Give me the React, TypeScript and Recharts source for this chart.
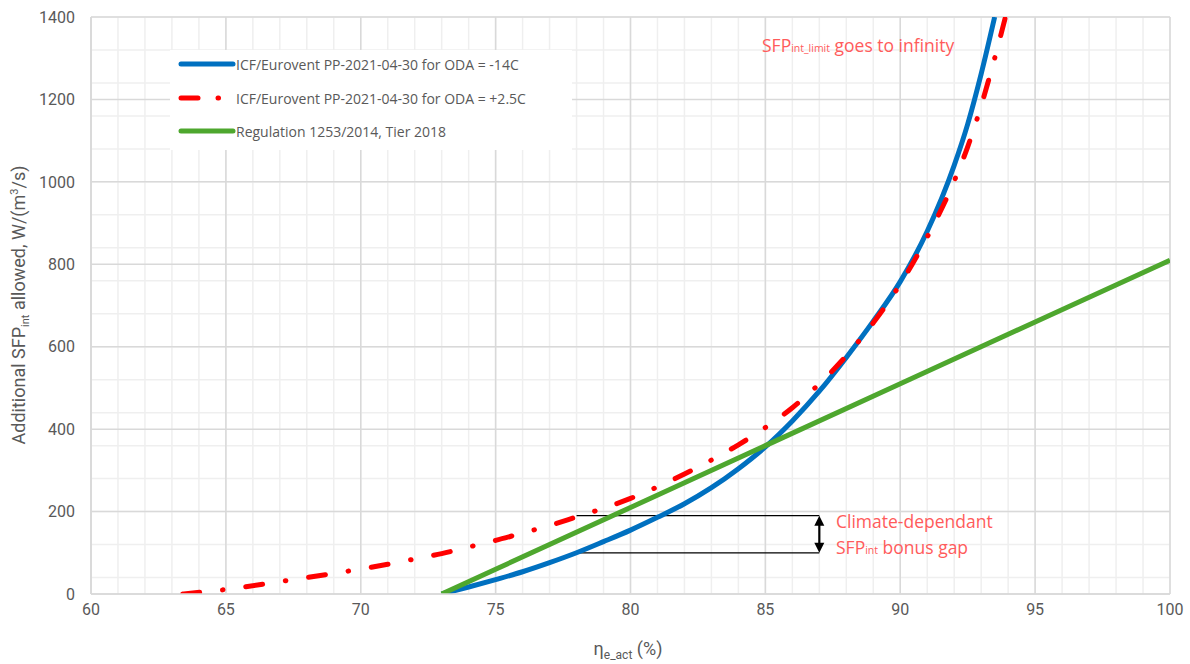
import React from "react";
import { LineChart, Line, XAxis, YAxis, CartesianGrid, ReferenceLine } from "recharts";

// ODA = -14C (blue)
const blueX = [73, 74, 75, 76, 77, 78, 79, 80, 81, 82, 83, 84, 85, 86, 87, 88, 89, 90, 91, 92, 92.5, 93, 93.5];
const blueY = [0, 17, 35, 54, 76, 100, 127, 155, 186, 219, 258, 304, 357, 420, 492, 574, 662, 758, 880, 1040, 1140, 1262, 1400];

// ODA = +2.5C (red dash-dot)
const redX = [63.4, 65, 67, 69, 71, 72, 73, 74, 75, 76, 77, 78, 79, 80, 81, 82, 83, 84, 85, 86, 87, 88, 89, 90, 91, 92, 92.5, 93, 93.5, 93.9];
const redY = [0, 11, 30, 50, 72, 85, 98, 114, 130, 148, 166, 187, 208, 232, 260, 291, 325, 362, 404, 452, 510, 578, 658, 752, 866, 1002, 1085, 1185, 1300, 1400];

// Regulation 1253/2014 Tier 2018 (green)
const greenX = [73, 75, 80, 85, 90, 95, 100];
const greenY = [0, 60, 210, 360, 510, 660, 810];

const xTicks = [60, 65, 70, 75, 80, 85, 90, 95, 100];
const yTicks = [0, 200, 400, 600, 800, 1000, 1200, 1400];

const toPoints = (xs: number[], ys: number[]) => xs.map((x, i) => ({ x, y: ys[i] }));
const blueData = toPoints(blueX, blueY);
const redData = toPoints(redX, redY);
const greenData = toPoints(greenX, greenY);

const minorX = Array.from({ length: 41 }, (_, i) => 60 + i);
const minorY = Array.from({ length: 36 }, (_, i) => i * 40);

const GRAY = "#595959";
const NOTE = "#FF5B5B";
const FONT = "Roboto, 'Noto Sans', sans-serif";
const NOTE_FONT = "'Open Sans', sans-serif";

const DoubleArrow = (p: any) => {
  const { x1, y1, x2, y2 } = p;
  const top = Math.min(y1, y2);
  const bot = Math.max(y1, y2);
  return (
    <g>
      <line x1={x1} y1={top + 6} x2={x2} y2={bot - 6} stroke="#000" strokeWidth={2.2} />
      <polygon points={`${x1},${top} ${x1 - 5},${top + 10} ${x1 + 5},${top + 10}`} fill="#000" />
      <polygon points={`${x1},${bot} ${x1 - 5},${bot - 10} ${x1 + 5},${bot - 10}`} fill="#000" />
    </g>
  );
};

const LegendRow = ({ color, dash, label, top }: { color: string; dash?: boolean; label: string; top: number }) => (
  <div style={{ position: "absolute", left: 8, top, height: 20, display: "flex", alignItems: "center" }}>
    <svg width={58} height={10}>
      {dash ? (
        <g stroke={color} strokeWidth={5} strokeLinecap="round">
          <line x1={3} y1={5} x2={20} y2={5} />
          <line x1={40} y1={5} x2={40.5} y2={5} />
        </g>
      ) : (
        <line x1={3} y1={5} x2={55} y2={5} stroke={color} strokeWidth={5} strokeLinecap="round" />
      )}
    </svg>
    <span style={{ fontSize: 14, color: GRAY, whiteSpace: "nowrap", fontFamily: NOTE_FONT }}>{label}</span>
  </div>
);

export default function App() {
  return (
    <div style={{ position: "absolute", left: 0, top: 0, width: 1190, height: 664, background: "#fff", fontFamily: FONT }}>
      <LineChart width={1190} height={664} margin={{ top: 17, right: 20, bottom: 0, left: 0 }}>
        <CartesianGrid stroke="#efefef" strokeWidth={1.5} verticalValues={minorX} horizontalValues={minorY} />
        <CartesianGrid stroke="#d9d9d9" strokeWidth={1.5} verticalValues={xTicks} horizontalValues={yTicks} />
        <XAxis
          dataKey="x"
          type="number"
          domain={[60, 100]}
          ticks={xTicks}
          allowDataOverflow
          height={70}
          tickLine={false}
          tickSize={0}
          tickMargin={10}
          axisLine={{ stroke: "#d9d9d9", strokeWidth: 1.5 }}
          tick={{ fill: GRAY, fontSize: 16, fontFamily: FONT }}
        />
        <YAxis
          type="number"
          domain={[0, 1400]}
          ticks={yTicks}
          allowDataOverflow
          width={91}
          tickLine={false}
          tickSize={0}
          tickMargin={16}
          axisLine={{ stroke: "#d9d9d9", strokeWidth: 1.5 }}
          tick={{ fill: GRAY, fontSize: 16, fontFamily: FONT }}
        />
        <ReferenceLine segment={[{ x: 78, y: 190 }, { x: 87, y: 190 }]} stroke="#000" strokeWidth={1.2} />
        <ReferenceLine segment={[{ x: 78, y: 100 }, { x: 87, y: 100 }]} stroke="#000" strokeWidth={1.2} />
        <ReferenceLine segment={[{ x: 87, y: 190 }, { x: 87, y: 100 }]} shape={DoubleArrow} />
        <Line data={blueData} dataKey="y" type="monotone" stroke="#0070C0" strokeWidth={5} dot={false} isAnimationActive={false} />
        <Line
          data={redData}
          dataKey="y"
          type="monotone"
          stroke="#FF0000"
          strokeWidth={5}
          strokeLinecap="round"
          strokeDasharray="17 23 0.5 23"
          dot={false}
          isAnimationActive={false}
        />
        <Line data={greenData} dataKey="y" type="linear" stroke="#4EA72E" strokeWidth={5} dot={false} isAnimationActive={false} />
      </LineChart>

      <div style={{ position: "absolute", left: 170, top: 50, width: 402, height: 100, background: "#fff" }}>
        <LegendRow color="#0070C0" label="ICF/Eurovent PP-2021-04-30 for ODA = -14C" top={4} />
        <LegendRow color="#FF0000" dash label="ICF/Eurovent PP-2021-04-30 for ODA = +2.5C" top={38} />
        <LegendRow color="#4EA72E" label="Regulation 1253/2014, Tier 2018" top={71} />
      </div>

      <div style={{ position: "absolute", left: 762, top: 33, fontSize: 17.5, color: NOTE, fontFamily: NOTE_FONT, whiteSpace: "nowrap" }}>
        SFP<span style={{ fontSize: 10.5 }}>int_limit</span> goes to infinity
      </div>
      <div style={{ position: "absolute", left: 836, top: 508, fontSize: 17.5, lineHeight: "26px", color: NOTE, fontFamily: NOTE_FONT, whiteSpace: "nowrap" }}>
        Climate-dependant
        <br />
        SFP<span style={{ fontSize: 10.5 }}>int</span> bonus gap
      </div>

      <div
        style={{
          position: "absolute",
          left: 20,
          top: 305,
          transform: "translate(-50%, -50%) rotate(-90deg)",
          fontSize: 18,
          color: GRAY,
          whiteSpace: "nowrap",
        }}
      >
        Additional SFP<sub style={{ fontSize: 11 }}>int</sub> allowed, W/(m<sup style={{ fontSize: 11 }}>3</sup>/s)
      </div>
      <div style={{ position: "absolute", left: 628, top: 650, transform: "translate(-50%, -50%)", fontSize: 18, color: GRAY, whiteSpace: "nowrap" }}>
        η<sub style={{ fontSize: 12 }}>e_act</sub> (%)
      </div>
    </div>
  );
}
